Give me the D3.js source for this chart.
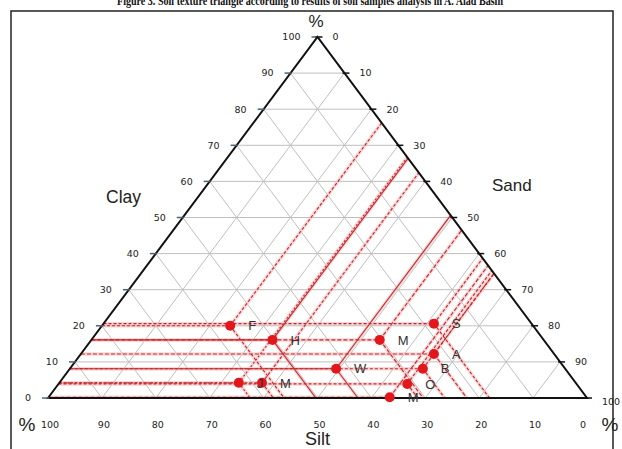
<!DOCTYPE html>
<html><head><meta charset="utf-8">
<script src="https://cdn.jsdelivr.net/npm/d3@7"></script>
<style>body{margin:0;background:#fff}svg{display:block}</style>
</head><body><svg id="c" width="622" height="449"></svg>
<script>
// ---- data ----
const sampleLabels = ["F","H","M","S","A","W","B","O","M","J","M"];
const clayPct = [20.0, 16.1, 16.1, 20.6, 12.2, 8.1, 8.1, 3.9, 0.2, 4.2, 4.2];
const sandPct = [23.8, 33.6, 53.5, 61.3, 65.5, 49.4, 65.5, 64.7, 63.3, 33.3, 37.6];
const gridLevels = [10,20,30,40,50,60,70,80,90];
const axisTicks = [0,10,20,30,40,50,60,70,80,90,100];
const titleText = "Figure 3. Soil texture triangle according to results of soil samples analysis in A. Alad Basin";

// ---- styles (not data) ----
const dashStyles = ["3,2", null, "4,2", "3,2", "4,2", null, "3,2", "3,2", "4,2", "2,2", "3,2"];

const svg = d3.select("#c");
const yS = d3.scaleLinear().domain([0,100]).range([398,37]);
const xS = d3.scaleLinear().domain([0,100]).range([48,587]);
const pt = (c,s) => [xS(s + c/2), yS(c)];
const line = d3.line();

// title (partly cut off at top, as in the source figure)
svg.append("text").attr("x",117).attr("y",5)
  .attr("textLength",386).attr("lengthAdjust","spacingAndGlyphs")
  .attr("font-family","Liberation Serif, serif").attr("font-weight","bold").attr("font-size",12.5)
  .attr("fill","#111").text(titleText);

// frame
svg.append("rect").attr("x",11).attr("y",11).attr("width",602).attr("height",460)
  .attr("fill","none").attr("stroke","#222").attr("stroke-width",1.5);

// grid
const grid = svg.append("g").attr("stroke","#bfbfbf").attr("stroke-width",1).attr("fill","none");
gridLevels.forEach(v => {
  grid.append("path").attr("d", line([pt(v,0), pt(v,100-v)]));          // clay
  grid.append("path").attr("d", line([pt(0,v), pt(100-v,v)]));          // sand
  grid.append("path").attr("d", line([pt(0,100-v), pt(100-v,0)]));      // silt
});

// reading lines
const data = sampleLabels.map((l,i)=>({label:l, c:clayPct[i], s:sandPct[i], dash:dashStyles[i]}));
const segs = d => [
  [pt(d.c,0), pt(d.c,d.s)],
  [pt(d.c,d.s), pt(100-d.s,d.s)],
  [pt(d.c,d.s), pt(0,d.c+d.s)]
];
const halo = svg.append("g").attr("fill","none").attr("stroke","#f5b5b5").attr("stroke-width",3.5).attr("opacity",0.55);
const rl = svg.append("g").attr("fill","none").attr("stroke","#c0262b").attr("stroke-width",1.1);
data.forEach(d => {
  segs(d).forEach(sg => {
    halo.append("path").attr("d", line(sg));
    rl.append("path").attr("d", line(sg)).attr("stroke-dasharray", d.dash);
  });
});

// triangle edges
svg.append("path").attr("d", line([pt(0,0), pt(100,0), pt(0,100)]) + "Z")
  .attr("fill","none").attr("stroke","#111").attr("stroke-width",2).attr("stroke-linejoin","miter");

const tickFont = "DejaVu Sans, Verdana, sans-serif";
// left (clay) ticks + labels
axisTicks.forEach(v => {
  const [x,y] = pt(v,0);
  svg.append("line").attr("x1",x-6).attr("x2",x+1).attr("y1",y).attr("y2",y)
    .attr("stroke","#4b6475").attr("stroke-width",1.5);
  svg.append("text").attr("x",x-17).attr("y",y).attr("dy","0.35em").attr("text-anchor","end")
    .attr("font-family",tickFont).attr("font-size",9.5).attr("fill","#222").text(v);
});
// right (sand) ticks + labels
axisTicks.forEach(v => {
  const [x,y] = pt(100-v,v);
  svg.append("line").attr("x1",x-2).attr("x2",x+5).attr("y1",y).attr("y2",y)
    .attr("stroke","#111").attr("stroke-width",1.5);
  svg.append("text").attr("x",x+15).attr("y",y+ (v===100?4:0)).attr("dy","0.35em").attr("text-anchor","start")
    .attr("font-family",tickFont).attr("font-size",9.5).attr("fill","#222").text(v);
});
// bottom (silt) labels
axisTicks.forEach(v => {
  const [x] = pt(0,100-v);
  svg.append("text").attr("x", v===0 ? x-4 : x+2).attr("y",428).attr("text-anchor","middle")
    .attr("font-family",tickFont).attr("font-size",9.5).attr("fill","#222").text(v);
});

// axis names and % signs
const nameFont = "Liberation Sans, Arial, sans-serif";
svg.append("text").attr("x",106).attr("y",203).attr("font-family",nameFont).attr("font-size",17.5).attr("fill","#222").text("Clay");
svg.append("text").attr("x",492).attr("y",191).attr("font-family",nameFont).attr("font-size",17).attr("fill","#222").text("Sand");
svg.append("text").attr("x",305).attr("y",445).attr("font-family",nameFont).attr("font-size",18).attr("fill","#222").text("Silt");
svg.append("text").attr("x",316).attr("y",27).attr("text-anchor","middle").attr("font-family",nameFont).attr("font-size",17).attr("fill","#222").text("%");
svg.append("text").attr("x",27).attr("y",431).attr("text-anchor","middle").attr("font-family",nameFont).attr("font-size",19).attr("fill","#222").text("%");
svg.append("text").attr("x",610).attr("y",431).attr("text-anchor","middle").attr("font-family",nameFont).attr("font-size",19).attr("fill","#222").text("%");

// points
svg.append("g").selectAll("circle").data(data).join("circle")
  .attr("cx", d=>pt(d.c,d.s)[0]).attr("cy", d=>pt(d.c,d.s)[1]).attr("r",5)
  .attr("fill","#e3161b");
svg.append("g").selectAll("text").data(data).join("text")
  .attr("x", d=>pt(d.c,d.s)[0]+18).attr("y", d=>pt(d.c,d.s)[1]).attr("dy","0.36em")
  .attr("font-family",nameFont).attr("font-size",13).attr("fill","#333").text(d=>d.label);
</script>
</body></html>
